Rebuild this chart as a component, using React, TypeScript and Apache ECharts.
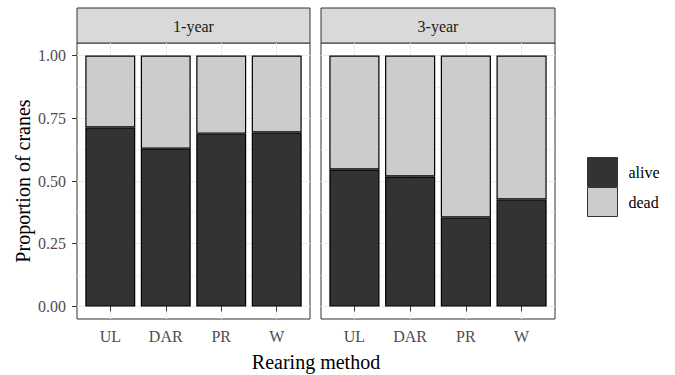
import React, { useEffect, useRef } from 'react';
import * as echarts from 'echarts';

const methods = ['UL', 'DAR', 'PR', 'W'];
const panels = ['1-year', '3-year'];
const statuses = ['alive', 'dead'];
const aliveOneYear = [0.713, 0.629, 0.689, 0.693];
const deadOneYear = [0.287, 0.371, 0.311, 0.307];
const aliveThreeYear = [0.546, 0.518, 0.355, 0.426];
const deadThreeYear = [0.454, 0.482, 0.645, 0.574];
const yTicks = [0, 0.25, 0.5, 0.75, 1];
const yMinorTicks = [0.125, 0.375, 0.625, 0.875];
const xTitle = 'Rearing method';
const yTitle = 'Proportion of cranes';

const FONT = 'Liberation Serif';
const statusColors = ['#333333', '#cccccc'];

export default function App() {
  const ref = useRef<HTMLDivElement>(null);

  useEffect(() => {
    if (!ref.current) return;
    const chart = echarts.init(ref.current, undefined, { renderer: 'svg' });
    const positions = methods.map((_, i) => i + 1);
    const panelBoxes = [
      { left: 77, width: 233 },
      { left: 321, width: 234 },
    ];
    const top = 43;
    const height = 276;

    const grids = panelBoxes.map((b) => ({
      left: b.left,
      top,
      width: b.width,
      height,
      show: true,
      backgroundColor: '#ffffff',
      borderColor: '#333333',
      borderWidth: 1,
    }));

    const xAxes = panelBoxes.map((_, i) => ({
      type: 'value',
      gridIndex: i,
      min: 0.4,
      max: 4.6,
      axisLine: { show: false },
      axisTick: { show: true, length: 5, lineStyle: { color: '#333333', width: 1 }, customValues: positions },
      axisLabel: {
        customValues: positions,
        formatter: (v: number) => methods[Math.round(v) - 1] ?? '',
        color: '#4d4d4d',
        fontSize: 16,
        fontFamily: FONT,
        margin: 9,
      },
      splitLine: { show: true, lineStyle: { color: '#ebebeb', width: 1 } },
    }));

    const yAxes: any[] = [];
    panelBoxes.forEach((_, i) => {
      yAxes.push({
        type: 'value',
        gridIndex: i,
        min: -0.05,
        max: 1.05,
        position: 'left',
        axisLine: { show: false },
        axisTick: { show: i === 0, length: 5, lineStyle: { color: '#333333', width: 1 }, customValues: yTicks },
        axisLabel: {
          show: i === 0,
          customValues: yTicks,
          formatter: (v: number) => v.toFixed(2),
          color: '#4d4d4d',
          fontSize: 16,
          fontFamily: FONT,
          margin: 11,
        },
        splitLine: { show: true, lineStyle: { color: '#ebebeb', width: 1 } },
      });
      yAxes.push({
        type: 'value',
        gridIndex: i,
        min: -0.05,
        max: 1.05,
        position: 'left',
        axisLine: { show: false },
        axisTick: { show: false, customValues: yMinorTicks },
        axisLabel: { show: false, customValues: yMinorTicks },
        splitLine: { show: true, lineStyle: { color: '#ebebeb', width: 0.6 } },
      });
    });

    const panelData = [
      [aliveOneYear, deadOneYear],
      [aliveThreeYear, deadThreeYear],
    ];
    const series: any[] = [];
    panelData.forEach((vals, p) => {
      vals.forEach((arr, s) => {
        series.push({
          type: 'bar',
          name: statuses[s],
          xAxisIndex: p,
          yAxisIndex: p * 2,
          stack: 'panel' + p,
          barWidth: '90%',
          encode: { x: 1, y: 0 },
          data: arr.map((v, i) => [v, positions[i]]),
          itemStyle: { color: statusColors[s], borderColor: '#000000', borderWidth: 1.2 },
          emphasis: { disabled: true },
        });
      });
    });

    const graphic: any[] = [];
    panelBoxes.forEach((b, i) => {
      graphic.push({
        type: 'rect',
        shape: { x: b.left, y: 8, width: b.width, height: 35 },
        style: { fill: '#d9d9d9', stroke: '#333333', lineWidth: 1 },
      });
      graphic.push({
        type: 'text',
        x: b.left + b.width / 2,
        y: 26,
        style: {
          text: panels[i],
          fontSize: 16,
          fontFamily: FONT,
          fill: '#1a1a1a',
          align: 'center',
          verticalAlign: 'middle',
        },
      });
    });
    graphic.push({
      type: 'text',
      x: 316,
      y: 362,
      style: { text: xTitle, fontSize: 20, fontFamily: FONT, fill: '#000000', align: 'center', verticalAlign: 'middle' },
    });
    graphic.push({
      type: 'text',
      x: 23,
      y: 181,
      rotation: Math.PI / 2,
      style: { text: yTitle, fontSize: 20, fontFamily: FONT, fill: '#000000', align: 'center', verticalAlign: 'middle' },
    });

    chart.setOption({
      animation: false,
      backgroundColor: '#ffffff',
      textStyle: { fontFamily: FONT },
      grid: grids,
      xAxis: xAxes,
      yAxis: yAxes,
      series,
      legend: {
        data: statuses,
        orient: 'vertical',
        left: 587,
        top: 157,
        padding: 0,
        itemWidth: 30,
        itemHeight: 29,
        itemGap: 0,
        icon: 'rect',
        selectedMode: false,
        itemStyle: { borderColor: '#333333', borderWidth: 1 },
        textStyle: { fontSize: 16, fontFamily: FONT, color: '#000000', padding: [0, 0, 0, 6] },
      },
      graphic,
    });

    return () => chart.dispose();
  }, []);

  return (
    <div
      ref={ref}
      style={{ position: 'fixed', left: 0, top: 0, width: 675, height: 375, background: '#fff' }}
    />
  );
}
